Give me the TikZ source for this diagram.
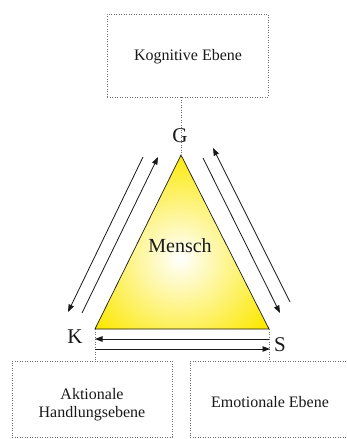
\documentclass[tikz,border=0pt]{standalone}
\usepackage{fontspec}
\setmainfont{Liberation Serif}
\usetikzlibrary{arrows.meta}
\definecolor{triyellow}{RGB}{252,232,0}
\definecolor{dotgray}{RGB}{110,110,110}
\definecolor{ink}{RGB}{25,25,25}
\begin{document}
\begin{tikzpicture}[x=1pt,y=-1pt,
  dotbox/.style={draw=dotgray, line width=0.9pt, dash pattern=on 0.9pt off 1.6pt, inner sep=0},
  dotline/.style={draw=dotgray, line width=0.9pt, dash pattern=on 0.9pt off 1.6pt},
  arr/.style={draw=ink, line width=0.8pt, -{Triangle[length=7.5pt,width=5.5pt]}},
  lbl/.style={font=\fontsize{16}{18}\selectfont, align=center, inner sep=0, text=ink},
  corner/.style={font=\fontsize{21}{21}\selectfont, inner sep=0, text=ink}]
\path[clip] (0,0) rectangle (346,439);
\fill[white] (0,0) rectangle (346,439);

% boxes
\node[dotbox, minimum width=161, minimum height=83] (kog) at (187.5,55.5) {};
\node[lbl] (kogT) at (188,57) {Kognitive Ebene};
\node[dotbox, minimum width=160, minimum height=76] (akt) at (92,399) {};
\node[lbl] (aktT) at (92,405) {Aktionale\\Handlungsebene};
\node[dotbox, minimum width=160, minimum height=76] (emo) at (270,399) {};
\node[lbl] (emoT) at (270,402) {Emotionale Ebene};

% triangle
\coordinate (G0) at (181,155);
\coordinate (K0) at (95,329);
\coordinate (S0) at (269,329);
\begin{scope}
  \clip (G0) -- (K0) -- (S0) -- cycle;
  \fill[triyellow] (G0) -- (K0) -- (S0) -- cycle;
  \shade[inner color=white, outer color=triyellow] (180,258) circle (108);
\end{scope}
\draw[ink, line width=0.7pt, line join=miter] (G0) -- (K0) -- (S0) -- cycle;
\node[font=\fontsize{20}{20}\selectfont, inner sep=0, text=ink] (mensch) at (180,246) {Mensch};

% dotted links
\draw[dotline] (kog.south -| G0) -- (G0);
\draw[dotline] (K0) -- (K0 |- akt.north);
\draw[dotline] (S0) -- (S0 |- emo.north);

% corner labels
\node[corner] (G) at (180,136) {G};
\node[corner] (K) at (75,337) {K};
\node[corner] (S) at (280,345) {S};

% side arrows
\coordinate (l1a) at (143,157); \coordinate (l1b) at (68,312);
\coordinate (l2a) at (82,313);  \coordinate (l2b) at (158,157);
\coordinate (r1a) at (203,158); \coordinate (r1b) at (280,313);
\coordinate (r2a) at (290,302); \coordinate (r2b) at (213,148);
\draw[arr] (l1a) -- (l1b);
\draw[arr] (l2a) -- (l2b);
\draw[arr] (r1a) -- (r1b);
\draw[arr] (r2a) -- (r2b);

% base arrows
\coordinate (b1a) at (269,339); \coordinate (b1b) at (95,339);
\coordinate (b2a) at (95,349);  \coordinate (b2b) at (270,349);
\draw[arr] (b1a) -- (b1b);
\draw[arr] (b2a) -- (b2b);
\end{tikzpicture}
\end{document}
